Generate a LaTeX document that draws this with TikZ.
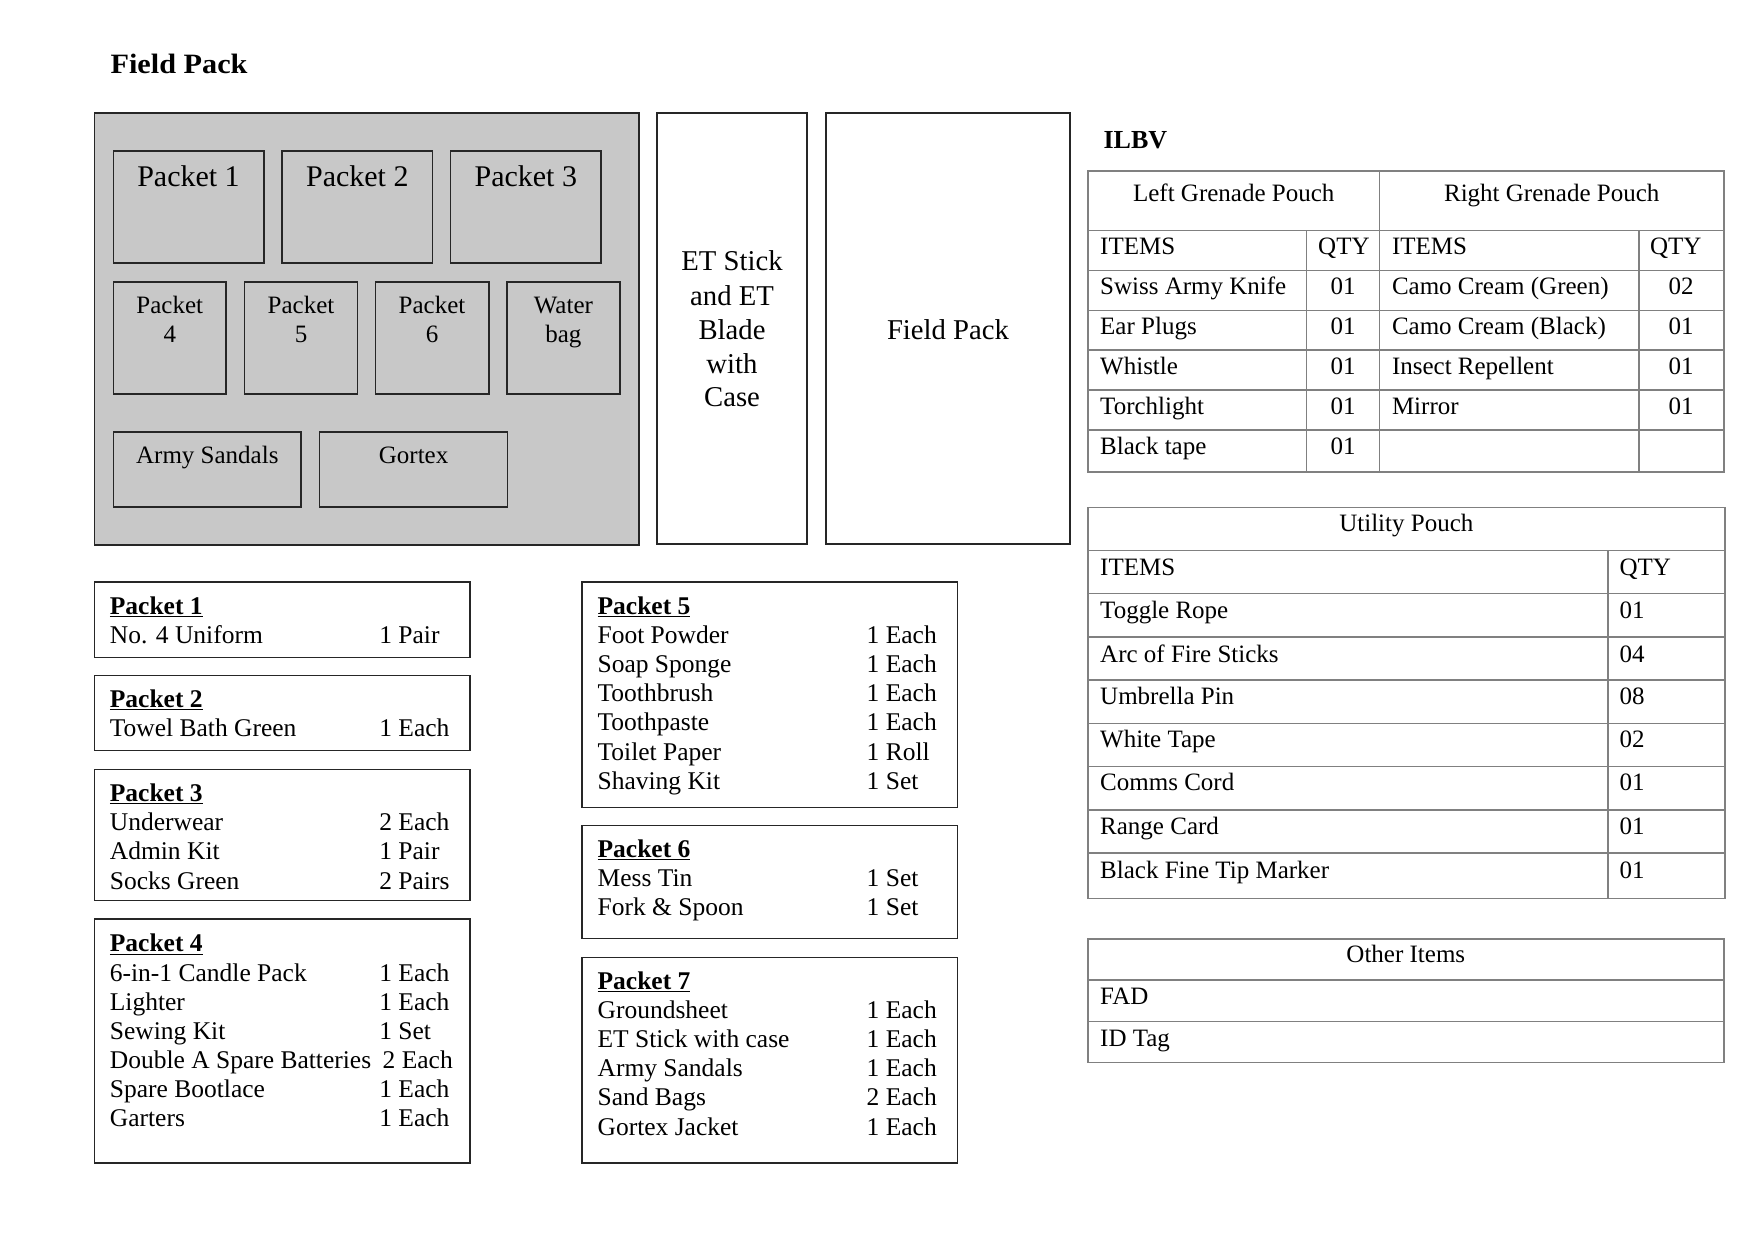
\documentclass[tikz,border=0pt]{standalone}
\usepackage{fontspec}
\setmainfont{Liberation Serif}
\newfontfamily\ftitle[FakeStretch=1.08]{Liberation Serif}
\definecolor{packgrey}{RGB}{200,200,200}
\begin{document}
\begin{tikzpicture}[x=1pt,y=-1pt,
  lbl/.style={inner sep=0pt, outer sep=0pt, anchor=base west},
  lblc/.style={inner sep=0pt, outer sep=0pt, anchor=base},
  pbox/.style={draw=black!85, line width=1.6pt},
  tline/.style={draw=black!50, line width=1.6pt},
  titlef/.style={font=\ftitle\fontsize{28}{30}\selectfont\bfseries},
  ilbvf/.style={font=\fontsize{26}{30}\selectfont\bfseries},
  greybig/.style={font=\fontsize{30}{32}\selectfont},
  greysm/.style={font=\fontsize{25}{28}\selectfont},
  tallf/.style={font=\fontsize{28.7}{32}\selectfont},
  listf/.style={font=\fontsize{25.5}{28}\selectfont},
  listb/.style={font=\fontsize{25.5}{28}\selectfont\bfseries},
  tabf/.style={font=\fontsize{25}{28}\selectfont}]
\useasboundingbox[fill=white] (0,0) rectangle (1753,1240);

% ---------- titles ----------
\node[lbl,titlef] (tfield) at (110.6,73) {Field Pack};
\node[lbl,ilbvf] (tilbv) at (1103.6,148.5) {ILBV};

% ---------- field pack (grey) ----------
\draw[pbox,fill=packgrey] (94.5,113) rectangle (638.7,545);
\draw[pbox] (113.3,151) rectangle (263.7,263);
\draw[pbox] (282,151) rectangle (432.5,263);
\draw[pbox] (450.4,151) rectangle (601.2,263);
\draw[pbox] (113.3,282) rectangle (226.2,394);
\draw[pbox] (244.6,282) rectangle (357.4,394);
\draw[pbox] (375.4,282) rectangle (488.7,394);
\draw[pbox] (506.7,282) rectangle (620,394);
\draw[pbox] (113.3,432) rectangle (301.2,507);
\draw[pbox] (319.6,432) rectangle (507.5,507);
\node[lblc,greybig] (g1) at (188.5,186) {Packet 1};
\node[lblc,greybig] (g2) at (357.3,186) {Packet 2};
\node[lblc,greybig] (g3) at (525.8,186) {Packet 3};
\node[lblc,greysm] (g4a) at (169.8,313.3) {Packet};
\node[lblc,greysm] (g4b) at (169.8,342.3) {4};
\node[lblc,greysm] (g5a) at (301,313.3) {Packet};
\node[lblc,greysm] (g5b) at (301,342.3) {5};
\node[lblc,greysm] (g6a) at (432,313.3) {Packet};
\node[lblc,greysm] (g6b) at (432,342.3) {6};
\node[lblc,greysm] (gwa) at (563.4,313.3) {Water};
\node[lblc,greysm] (gwb) at (563.4,342.3) {bag};
\node[lblc,greysm] (gas) at (207.3,463.3) {Army Sandals};
\node[lblc,greysm] (ggx) at (413.6,463.3) {Gortex};

% ---------- ET stick and field pack ----------
\draw[pbox] (657,113) rectangle (807,544);
\draw[pbox] (826,113) rectangle (1070,544);
\node[lblc,tallf] (et1) at (732,270.7) {ET Stick};
\node[lblc,tallf] (et2) at (732,305) {and ET};
\node[lblc,tallf] (et3) at (732,339.3) {Blade};
\node[lblc,tallf] (et4) at (732,373.3) {with};
\node[lblc,tallf] (et5) at (732,406.7) {Case};
\node[lblc,tallf] (fpk) at (948,339.3) {Field Pack};

% ---------- packet lists ----------
\newcommand\plist[9]{%
  % #1 name, #2 x1, #3 y1, #4 x2, #5 y2, #6 qty x, #7 title baseline, #8 title, #9 items
  \draw[pbox] (#2,#3) rectangle (#4,#5);
  \node[lbl,listb] (#1-t) at (#2+15.6,#7) {#8};
  \draw[line width=0.9pt] ([yshift=-2.2pt]#1-t.base west) -- ([yshift=-2.2pt]#1-t.base east);
  \foreach \a/\b [count=\i] in {#9}{
    \node[lbl,listf] (#1-i\i) at (#2+15.6,#7+29.2*\i) {\a};
    \node[lbl,listf] (#1-q\i) at (#6,#7+29.2*\i) {\b};
  }%
}
\plist{pa}{94.3}{581.9}{469.7}{657.3}{379.3}{614}{Packet 1}{No. 4 Uniform/1 Pair}
\plist{pb}{94.3}{675.6}{469.7}{750.6}{379.3}{707}{Packet 2}{Towel Bath Green/1 Each}
\plist{pc}{94.3}{769.4}{469.7}{900.6}{379.3}{801.5}{Packet 3}{Underwear/2 Each, Admin Kit/1 Pair, Socks Green/2 Pairs}
\draw[pbox] (94.3,919) rectangle (469.7,1163.1);
\node[lbl,listb] (pd-t) at (109.9,951.9) {Packet 4};
\draw[line width=0.9pt] ([yshift=-2.2pt]pd-t.base west) -- ([yshift=-2.2pt]pd-t.base east);
\foreach \a/\b/\q [count=\i] in {6-in-1 Candle Pack/1 Each/379.3, Lighter/1 Each/379.3, Sewing Kit/1 Set/379.3, Double A Spare Batteries/2 Each/382.7, Spare Bootlace/1 Each/379.3, Garters/1 Each/379.3}{
  \node[lbl,listf] (pd-i\i) at (109.9,951.9+29.1*\i) {\a};
  \node[lbl,listf] (pd-q\i) at (\q,951.9+29.1*\i) {\b};
}
\plist{pe}{582}{581.9}{957.3}{807.3}{866.7}{614}{Packet 5}{Foot Powder/1 Each, Soap Sponge/1 Each, Toothbrush/1 Each, Toothpaste/1 Each, Toilet Paper/1 Roll, Shaving Kit/1 Set}
\plist{pf}{582}{825.6}{957.3}{938.5}{866.7}{857}{Packet 6}{Mess Tin/1 Set, Fork \& Spoon/1 Set}
\plist{pg}{582}{957.3}{957.3}{1163.1}{866.7}{989}{Packet 7}{Groundsheet/1 Each, ET Stick with case/1 Each, Army Sandals/1 Each, Sand Bags/2 Each, Gortex Jacket/1 Each}

% ---------- grenade pouch table ----------
\draw[tline] (1087.7,170.7) rectangle (1723.8,472);
\foreach \y in {230.3,270.3,310.3,350,390,430}{\draw[tline] (1087.7,\y) -- (1723.8,\y);}
\draw[tline] (1379.6,170.7) -- (1379.6,472);
\draw[tline] (1306.6,230.3) -- (1306.6,472);
\draw[tline] (1638.8,230.3) -- (1638.8,472);
\node[lblc,tabf] (lgp) at (1233.7,201.7) {Left Grenade Pouch};
\node[lblc,tabf] (rgp) at (1551.7,201.7) {Right Grenade Pouch};
\node[lbl,tabf] (lgi) at (1100.2,254) {ITEMS};
\node[lbl,tabf] (lgq) at (1318.2,254) {QTY};
\node[lbl,tabf] (rgi) at (1392,254) {ITEMS};
\node[lbl,tabf] (rgq) at (1650,254) {QTY};
\foreach \a/\b [count=\i] in {Swiss Army Knife/01, Ear Plugs/01, Whistle/01, Torchlight/01, Black tape/01}{
  \node[lbl,tabf] (lg-i\i) at (1100.2,254+40*\i) {\a};
  \node[lblc,tabf] (lg-q\i) at (1343,254+40*\i) {\b};
}
\foreach \a/\b [count=\i] in {Camo Cream (Green)/02, Camo Cream (Black)/01, Insect Repellent/01, Mirror/01}{
  \node[lbl,tabf] (rg-i\i) at (1392,254+40*\i) {\a};
  \node[lblc,tabf] (rg-q\i) at (1681.2,254+40*\i) {\b};
}

% ---------- utility pouch ----------
\draw[tline] (1087.7,507.4) rectangle (1725,898.4);
\foreach \y in {550.3,593.6,636.9,680.1,723.4,766.3,810,853.2}{\draw[tline] (1087.7,\y) -- (1725,\y);}
\draw[tline] (1607.9,550.3) -- (1607.9,898.4);
\node[lblc,tabf] (utp) at (1406.3,531.8) {Utility Pouch};
\foreach \a/\b/\y [count=\i] in {ITEMS/QTY/575.1, Toggle Rope/01/618.7, Arc of Fire Sticks/04/662, Umbrella Pin/08/704.5, White Tape/02/747.8, Comms Cord/01/790.4, Range Card/01/834.7, Black Fine Tip Marker/01/878.4}{
  \node[lbl,tabf] (ut-i\i) at (1100.2,\y) {\a};
  \node[lbl,tabf] (ut-q\i) at (1619.5,\y) {\b};
}

% ---------- other items ----------
\draw[tline] (1087.7,938.7) rectangle (1723.8,1062.6);
\draw[tline] (1087.7,980.1) -- (1723.8,980.1);
\draw[tline] (1087.7,1021.5) -- (1723.8,1021.5);
\node[lblc,tabf] (oth) at (1405.8,962.7) {Other Items};
\node[lbl,tabf] (ofad) at (1100.2,1004.9) {FAD};
\node[lbl,tabf] (oid) at (1100.2,1046) {ID Tag};
\end{tikzpicture}
\end{document}
